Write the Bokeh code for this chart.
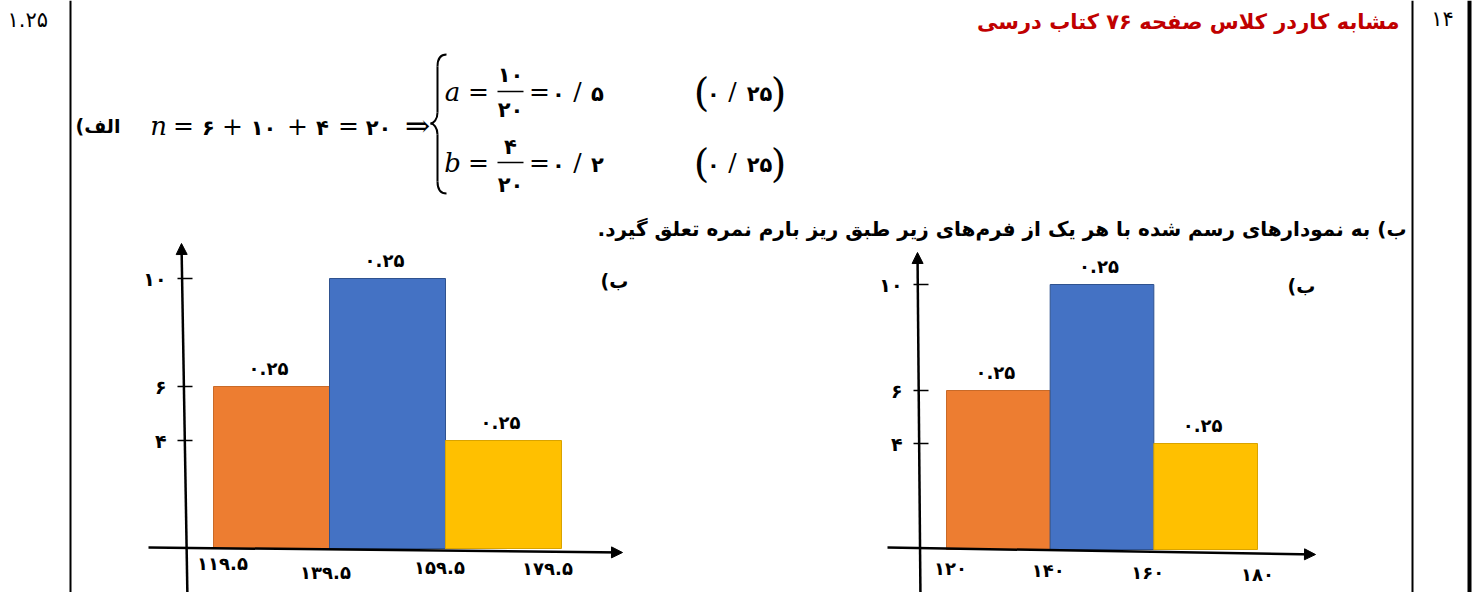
from bokeh.plotting import figure
from bokeh.models import Range1d, Arrow, NormalHead
from bokeh.core.properties import value
from bokeh.embed import file_html
from bokeh.resources import INLINE

RLM = "\u200f"

# ---------------- data ----------------
freqs = [6, 10, 4]
bar_colors = ["#ED7D31", "#4472C4", "#FFC000"]
bar_edges_col = ["#C96A28", "#2F528F", "#D9A300"]
left_edges = [119.5, 139.5, 159.5, 179.5]
left_edge_labels = ["۱۱۹.۵", "۱۳۹.۵", "۱۵۹.۵", "۱۷۹.۵"]
right_edges = [120, 140, 160, 180]
right_edge_labels = ["۱۲۰", "۱۴۰", "۱۶۰", "۱۸۰"]
y_ticks = [4, 6, 10]
y_tick_labels = ["۴", "۶", "۱۰"]
bar_scores = ["۰.۲۵", "۰.۲۵", "۰.۲۵"]

title_text = "مشابه کاردر کلاس صفحه ۷۶ کتاب درسی"
q_number = "۱۴"
q_score = "۱.۲۵"
part_a = "الف)"
part_b = "ب) به نمودارهای رسم شده با هر یک از فرم\u200cهای زیر طبق ریز بارم نمره تعلق گیرد."
hist_tag = "ب)"

FA = value("DejaVu Sans")
SERIF = value("DejaVu Serif")

# ---------------- canvas (reference pixel coordinates) ----------------
W, H = 1475, 592
X0, Y0 = 0, 0
p = figure(width=W, height=H, x_range=Range1d(X0, X0 + W), y_range=Range1d(Y0 + H, Y0),
           output_backend="svg", toolbar_location=None, min_border=0,
           x_axis_location=None, y_axis_location=None)
p.grid.visible = False
p.outline_line_color = None
p.background_fill_color = "white"
p.border_fill_color = "white"

# table borders
p.segment(x0=[70, 1412], x1=[70, 1412], y0=[0, 0], y1=[600, 600], line_color="black", line_width=2)
p.segment(x0=[1469], x1=[1469], y0=[0], y1=[600], line_color="black", line_width=4)

# header texts
p.text(x=[1399], y=[21], text=[title_text + RLM], text_font=FA, text_font_style="bold",
       text_font_size="21px", text_color="#C00000", text_align="right", text_baseline="middle")
p.text(x=[1442], y=[18], text=[q_number], text_font=FA, text_font_size="21px",
       text_color="black", text_align="center", text_baseline="middle")
p.text(x=[7], y=[19], text=[q_score], text_font=FA, text_font_size="21px",
       text_color="black", text_align="left", text_baseline="middle")

# ---------------- part a formula ----------------
row_n, row_a, row_b = 125, 91, 162
p.text(x=[120], y=[row_n], text=[part_a + RLM], text_font=FA, text_font_style="bold",
       text_font_size="19px", text_color="black", text_align="right", text_baseline="middle")

ital = dict(text_font=SERIF, text_font_style="italic", text_font_size="26px",
            text_color="black", text_align="center", text_baseline="middle")
ops = dict(text_font=SERIF, text_font_size="25px", text_color="black",
           text_align="center", text_baseline="middle")
digs = dict(text_font=FA, text_font_style="bold", text_font_size="21px", text_color="black",
            text_align="center", text_baseline="middle")

p.text(x=[158, 452, 452], y=[row_n, row_a, row_b], text=["n", "a", "b"], **ital)
# n-line
p.text(x=[183, 232, 297, 348], y=[row_n] * 4, text=["=", "+", "+", "="], **ops)
p.text(x=[417], y=[row_n], text=["⇒"], text_font=SERIF, text_font_size="30px",
       text_color="black", text_align="center", text_baseline="middle")
p.text(x=[208, 263, 322, 378], y=[row_n + 2] * 4, text=["۶", "۱۰", "۴", "۲۰"], **digs)
# a/b lines operators
p.text(x=[478, 539, 577, 732, 478, 539, 577, 732],
       y=[row_a] * 4 + [row_b] * 4, text=["=", "=", "/", "/", "=", "=", "/", "/"], **ops)
p.text(x=[510, 510, 558, 597, 713, 759, 510, 510, 558, 597, 713, 759],
       y=[row_a - 17, row_a + 18, row_a + 2, row_a + 2, row_a + 2, row_a + 2,
          row_b - 16, row_b + 22, row_b + 2, row_b + 2, row_b + 2, row_b + 2],
       text=["۱۰", "۲۰", "۰", "۵", "۰", "۲۵", "۴", "۲۰", "۰", "۲", "۰", "۲۵"], **digs)
# fraction bars
p.segment(x0=[497, 497], x1=[523, 523], y0=[row_a, row_b], y1=[row_a, row_b],
          line_color="black", line_width=1.5)
# big parentheses
p.text(x=[701, 778, 701, 778], y=[row_a, row_a, row_b, row_b], text=["(", ")", "(", ")"],
       text_font=SERIF, text_font_size="40px", text_color="black",
       text_align="center", text_baseline="middle")
# brace
bx = 437
p.bezier(x0=[446, bx, bx, bx], y0=[54, 112, 134, 181],
         x1=[bx, 430, 430, 446], y1=[66, 123, 123, 193],
         cx0=[440, bx, bx, bx], cy0=[54, 119, 127, 189],
         cx1=[bx, 433, 433, 440], cy1=[58, 123, 123, 193],
         line_color="black", line_width=2)
p.segment(x0=[bx, bx], x1=[bx, bx], y0=[66, 134], y1=[112, 181], line_color="black", line_width=2)

# part b sentence
p.text(x=[1406], y=[228], text=[part_b + RLM], text_font=FA, text_font_style="bold",
       text_font_size="20px", text_color="black", text_align="right", text_baseline="middle")


# ---------------- histograms ----------------
def add_hist(name, edges, edge_labels, x_px, y_zero_px, y_ten_px, yaxis, xaxis,
             lab_dx, lab_y, tag_xy):
    t = (x_px[1] - x_px[0]) / (edges[-1] - edges[0])
    s = (y_zero_px - y_ten_px) / 10.0
    xn, yn = name + "x", name + "y"
    p.extra_x_ranges[xn] = Range1d(edges[0] + (X0 - x_px[0]) / t, edges[0] + (X0 + W - x_px[0]) / t)
    p.extra_y_ranges[yn] = Range1d((y_zero_px - (Y0 + H)) / s, (y_zero_px - Y0) / s)

    p.quad(left=edges[:-1], right=edges[1:], bottom=0, top=freqs,
           fill_color=bar_colors, line_color=bar_edges_col, line_width=1,
           x_range_name=xn, y_range_name=yn)
    centers = [(a + b) / 2 for a, b in zip(edges[:-1], edges[1:])]
    p.text(x=centers, y=freqs, text=bar_scores, y_offset=-18, x_offset=-3,
           text_font=FA, text_font_style="bold", text_font_size="18px", text_color="black",
           text_align="center", text_baseline="middle", x_range_name=xn, y_range_name=yn)

    # axes with arrow heads
    (ax_b, ay_b), (ax_t, ay_t) = yaxis
    p.add_layout(Arrow(end=NormalHead(size=11, fill_color="black", line_color="black"),
                       x_start=ax_b, y_start=ay_b, x_end=ax_t, y_end=ay_t,
                       line_color="black", line_width=2.5))
    (bx_l, by_l), (bx_r, by_r) = xaxis
    p.add_layout(Arrow(end=NormalHead(size=11, fill_color="black", line_color="black"),
                       x_start=bx_l, y_start=by_l, x_end=bx_r, y_end=by_r,
                       line_color="black", line_width=2.5))

    # y ticks
    axis_x = ax_t + 1
    p.segment(x0=[axis_x - 5] * 3, x1=[axis_x + 10] * 3, y0=y_ticks, y1=y_ticks,
              line_color="black", line_width=1.5, y_range_name=yn)
    p.text(x=[axis_x - 16] * 3, y=y_ticks, text=y_tick_labels, text_font=FA,
           text_font_style="bold", text_font_size="19px", text_color="black",
           text_align="right", text_baseline="middle", y_range_name=yn)
    # x tick labels
    p.text(x=edges, y=lab_y, text=edge_labels, x_offset=lab_dx, text_font=FA,
           text_font_style="bold", text_font_size="18px", text_color="black",
           text_align="center", text_baseline="middle", x_range_name=xn)
    p.text(x=[tag_xy[0]], y=[tag_xy[1]], text=[hist_tag + RLM], text_font=FA,
           text_font_style="bold", text_font_size="19px", text_color="black",
           text_align="center", text_baseline="middle")


add_hist("h1", left_edges, left_edge_labels, (213, 561), 548, 278,
         ((187, 600), (181, 243)), ((148, 547), (622, 552)),
         [9, -4, -6, -14], [563, 572, 567, 568], (614, 280))
add_hist("h2", right_edges, right_edge_labels, (946, 1257), 549, 284,
         ((920, 600), (917, 252)), ((887, 547), (1315, 554)),
         [4, -2, -6, 0], [568, 570, 572, 574], (1301, 285))

open("out.html", "w").write(file_html(p, INLINE))
